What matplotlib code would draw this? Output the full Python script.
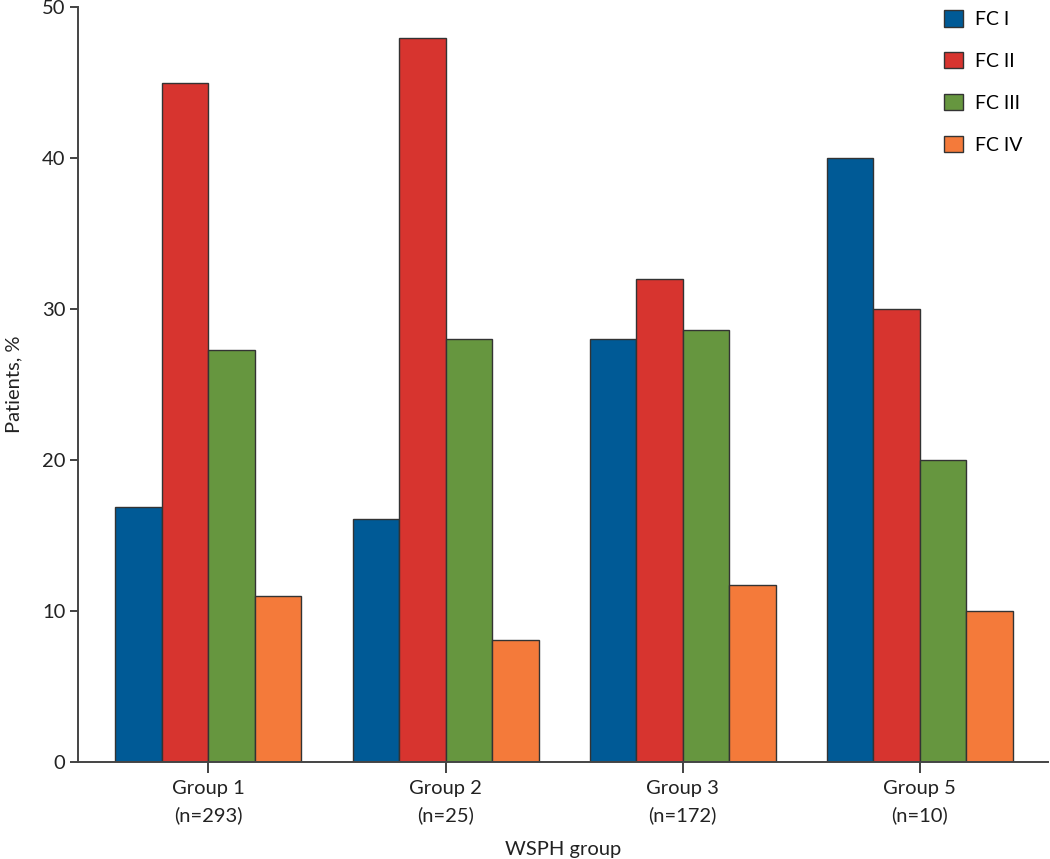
import numpy as np
import matplotlib
matplotlib.use('Agg')
import matplotlib.pyplot as plt

plt.rcParams['font.family'] = ['Lato', 'DejaVu Sans']

groups = ['Group 1\n(n=293)', 'Group 2\n(n=25)', 'Group 3\n(n=172)', 'Group 5\n(n=10)']
classes = ['FC I', 'FC II', 'FC III', 'FC IV']
fc1 = [16.9, 16.1, 28.0, 40.0]
fc2 = [45.0, 48.0, 32.0, 30.0]
fc3 = [27.3, 28.0, 28.6, 20.0]
fc4 = [11.0, 8.1, 11.7, 10.0]
colors = ['#005a96', '#d7342f', '#66963f', '#f47a3a']

fig = plt.figure(figsize=(10.5, 8.59), dpi=100)
ax = fig.add_axes([0.0743, 0.1129, 0.9237, 0.8784])

x = np.arange(len(groups))
w = 0.196
for i, vals in enumerate([fc1, fc2, fc3, fc4]):
    ax.bar(x + (i - 1.5) * w, vals, w, color=colors[i], edgecolor='#333333',
           linewidth=1.0, label=classes[i])

ax.set_xlim(-0.55, 3.54)
ax.set_ylim(0, 50)
ax.set_yticks([0, 10, 20, 30, 40, 50])
ax.set_xticks(x)
ax.set_xticklabels(groups, fontsize=14.5, color='#222222', linespacing=1.6)
ax.tick_params(axis='y', labelsize=14.5, colors='#222222', length=6, width=1.2, pad=3)
ax.tick_params(axis='x', length=8, width=1.2, colors='#222222', pad=5)
for s in ['top', 'right']:
    ax.spines[s].set_visible(False)
for s in ['left', 'bottom']:
    ax.spines[s].set_color('#444444')
    ax.spines[s].set_linewidth(1.4)

ax.set_ylabel('Patients, %', fontsize=14.5, color='#222222', labelpad=14)
ax.set_xlabel('WSPH group', fontsize=14.5, color='#222222', labelpad=12)

leg = ax.legend(loc='upper left', bbox_to_anchor=(0.893, 0.997), frameon=False,
                fontsize=14, handlelength=0.95, handleheight=0.95,
                labelspacing=1.23, handletextpad=0.65, borderpad=0,
                borderaxespad=0)

fig.savefig('out.png', dpi=100)
